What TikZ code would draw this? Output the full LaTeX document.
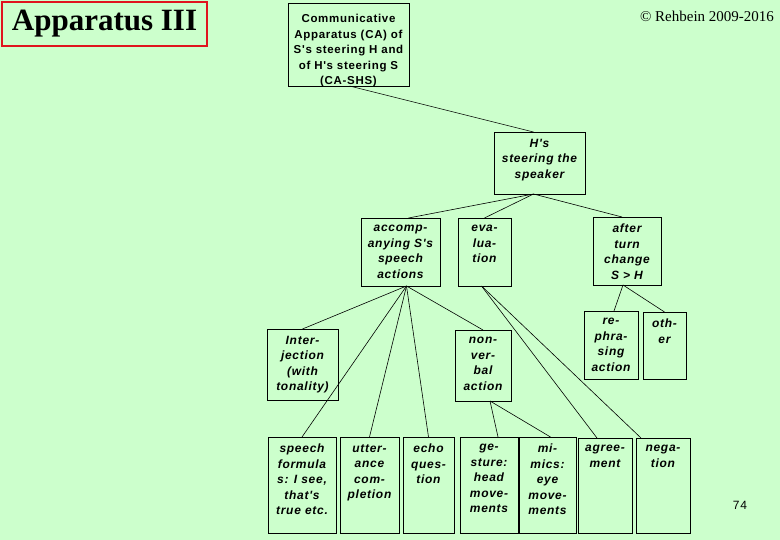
\documentclass[tikz,border=0pt]{standalone}
\usepackage{fontspec}
\setmainfont{Liberation Serif}
\newfontfamily\boxfont[LetterSpace=6]{Liberation Sans}
\definecolor{bg}{HTML}{CCFFCC}
\definecolor{tred}{HTML}{E0141E}
\newcommand{\mybx}[6]{%
  \node[boxr,minimum width={#4-#2},minimum height={#5-#3}] (#1) at ({(#2+#4)/2},{(#3+#5)/2}) {};
  \node[boxt] at (#1.north) {#6};}
\begin{document}
\begin{tikzpicture}[x=1pt,y=-1pt,
  boxr/.style={draw,line width=0.8pt,inner sep=0,outer sep=0},
  boxt/.style={anchor=north,align=center,inner sep=0,yshift=-7pt,font=\boxfont\bfseries\itshape\fontsize{12}{15.5}\selectfont},
  ln/.style={line width=0.6pt}]
\fill[bg] (0,0) rectangle (780,540);
\useasboundingbox (0,0) rectangle (780,540);
\node[draw=tred,line width=2.5pt,minimum width=205,minimum height=44,inner sep=0,font=\bfseries\fontsize{31}{34}\selectfont] (title) at (104.5,24) {Apparatus III};
\node[font=\fontsize{15}{17}\selectfont] (copy) at (707,16) {© Rehbein 2009-2016};
\node[font=\boxfont\fontsize{12}{14}\selectfont] (pg) at (740,505) {74};
\node[boxr,minimum width=121,minimum height=83] (ca) at (348.5,44.5) {};
\node[boxt,font=\boxfont\bfseries\fontsize{11.5}{15.5}\selectfont,yshift=-4pt] at (ca.north) {Communicative\\Apparatus (CA) of\\S's steering H and\\of H's steering S\\(CA-SHS)};
\mybx{hs}{494}{132}{585}{194}{H's\\steering the\\speaker}
\mybx{acc}{361}{218}{440}{286}{accomp-\\anying S's\\speech\\actions}
\mybx{ev}{458}{218}{511}{286}{eva-\\lua-\\tion}
\mybx{at}{593}{217}{661}{285}{after\\turn\\change\\S > H}
\mybx{rp}{584}{311}{638}{379}{re-\\phra-\\sing\\action}
\mybx{ot}{643}{312}{686}{379}{oth-\\er}
\mybx{ij}{267}{329}{338}{400}{Inter-\\jection\\(with\\tonality)}
\mybx{nv}{455}{330}{511}{401}{non-\\ver-\\bal\\action}
\mybx{sf}{268}{437}{336}{533}{speech\\formula\\s: I see,\\that's\\true etc.}
\mybx{uc}{340}{437}{399}{533}{utter-\\ance\\com-\\pletion}
\mybx{eq}{403}{437}{454}{533}{echo\\ques-\\tion}
\mybx{ge}{460}{437}{518}{533}{ge-\\sture:\\head\\move-\\ments}
\mybx{mi}{519}{437}{576}{533}{mi-\\mics:\\eye\\move-\\ments}
\mybx{ag}{578}{438}{632}{533}{agree-\\ment}
\mybx{ne}{636}{438}{690}{533}{nega-\\tion}
\draw[ln] ([xshift=1pt]ca.south) -- ([xshift=-6pt]hs.north);
\draw[ln] ([xshift=-6pt]hs.south) -- ([xshift=8pt]acc.north);
\draw[ln] ([xshift=-6pt]hs.south) -- ([xshift=0pt]ev.north);
\draw[ln] ([xshift=-6pt]hs.south) -- ([xshift=-5pt]at.north);
\foreach \t in {ij,sf,uc,eq,nv} \draw[ln] ([xshift=6pt]acc.south) -- (\t.north);
\draw[ln] ([xshift=-3pt]ev.south) -- ([xshift=-8pt]ag.north);
\draw[ln] ([xshift=-3pt]ev.south) -- ([xshift=-22pt]ne.north);
\draw[ln] ([xshift=-4pt]at.south) -- ([xshift=3pt]rp.north);
\draw[ln] ([xshift=-4pt]at.south) -- (ot.north);
\draw[ln] ([xshift=7pt]nv.south) -- ([xshift=9pt]ge.north);
\draw[ln] ([xshift=7pt]nv.south) -- ([xshift=3pt]mi.north);
\end{tikzpicture}
\end{document}
